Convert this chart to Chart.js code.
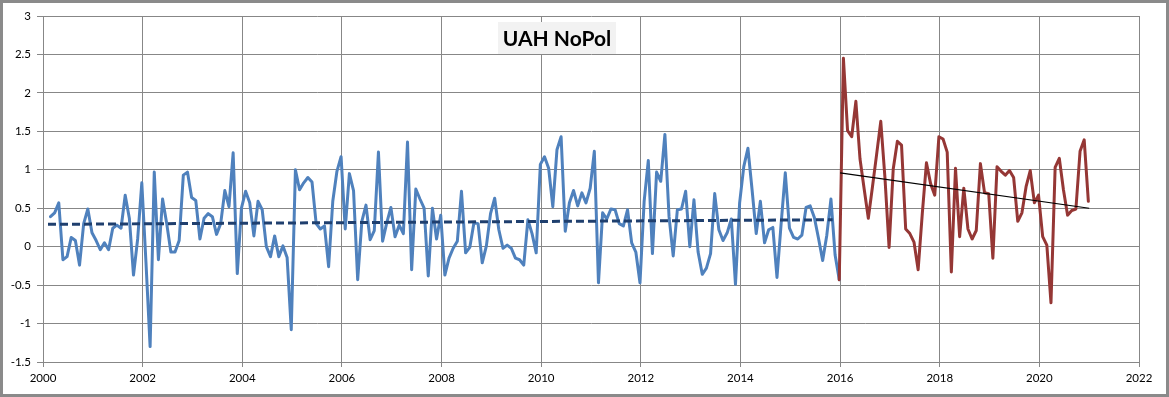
<!DOCTYPE html>
<html>
<head>
<meta charset="utf-8">
<script src="https://cdn.jsdelivr.net/npm/chart.js@4"></script>
<style>
  body { margin: 0; background: #fff; }
  #frame {
    width: 1169px; height: 397px; box-sizing: border-box;
    border: 3px solid #8a8a8a; background: #fff;
  }
  canvas { display: block; }
</style>
</head>
<body>
<div id="frame"><canvas id="chart" width="1163" height="391"></canvas></div>
<script>
// --- datos (mensuales) ---
const blueStart = 2000.15;
const monthStep = 1 / 12;
const blueValues = [
  0.39, 0.44, 0.57, -0.17, -0.13, 0.12, 0.08, -0.24, 0.30, 0.49, 0.18, 0.08,
  -0.04, 0.05, -0.04, 0.24, 0.28, 0.24, 0.67, 0.37, -0.37, 0.10, 0.83, -0.20,
  -1.30, 0.97, -0.17, 0.62, 0.30, -0.07, -0.07, 0.08, 0.93, 0.97, 0.64, 0.60,
  0.10, 0.37, 0.43, 0.39, 0.16, 0.30, 0.73, 0.52, 1.22, -0.35, 0.50, 0.72,
  0.57, 0.14, 0.59, 0.48, 0.00, -0.13, 0.14, -0.13, 0.01, -0.14, -1.08, 1.00,
  0.74, 0.83, 0.90, 0.84, 0.30, 0.23, 0.27, -0.26, 0.59, 0.98, 1.17, 0.23,
  0.95, 0.73, -0.43, 0.33, 0.54, 0.09, 0.21, 1.23, 0.07, 0.31, 0.51, 0.13,
  0.28, 0.17, 1.36, -0.30, 0.75, 0.62, 0.50, -0.38, 0.50, 0.10, 0.41, -0.37,
  -0.15, -0.02, 0.07, 0.72, -0.08, -0.01, 0.31, 0.30, -0.21, 0.01, 0.43, 0.63,
  0.22, -0.02, 0.02, -0.02, -0.15, -0.17, -0.24, 0.35, 0.17, -0.08, 1.07, 1.17,
  1.02, 0.52, 1.26, 1.43, 0.20, 0.57, 0.73, 0.53, 0.70, 0.57, 0.76, 1.24,
  -0.47, 0.44, 0.36, 0.49, 0.48, 0.30, 0.27, 0.48, 0.05, -0.07, -0.47, 0.59,
  1.12, -0.09, 0.97, 0.85, 1.46, 0.39, -0.12, 0.48, 0.49, 0.72, 0.00, 0.61,
  -0.07, -0.36, -0.28, -0.09, 0.69, 0.22, 0.08, 0.18, 0.36, -0.49, 0.57, 1.04,
  1.28, 0.74, 0.17, 0.59, 0.05, 0.22, 0.25, -0.40, 0.30, 0.96, 0.24, 0.12,
  0.10, 0.15, 0.51, 0.53, 0.38, 0.11, -0.18, 0.15, 0.62, -0.11, -0.43
];
const redValues = [
  -0.43, 2.45, 1.51, 1.43, 1.89, 1.14, 0.75, 0.37, 0.78, 1.20, 1.63, 0.90,
  -0.01, 1.01, 1.37, 1.32, 0.23, 0.17, 0.06, -0.30, 0.43, 1.09, 0.82, 0.67,
  1.43, 1.40, 1.23, -0.33, 1.02, 0.13, 0.76, 0.23, 0.10, 0.21, 1.08, 0.70,
  0.69, -0.15, 1.04, 0.98, 0.93, 0.99, 0.90, 0.33, 0.44, 0.78, 0.99, 0.57,
  0.67, 0.13, 0.02, -0.73, 1.03, 1.15, 0.74, 0.41, 0.47, 0.49, 1.24, 1.39,
  0.59
];
// tendencias (extremos)
const blueTrendX = [2000.1, 2015.85];
const blueTrendY = [0.29, 0.35];
const redTrendX = [2016.0, 2021.0];
const redTrendY = [0.96, 0.50];
const titleText = 'UAH NoPol';

const redStart = blueStart + (blueValues.length - 1) * monthStep;
const toPoints = (start, vals) => vals.map((v, i) => ({ x: start + i * monthStep, y: v }));
const pairPoints = (xs, ys) => xs.map((x, i) => ({ x: x, y: ys[i] }));

const gridColor = '#878787';
const fontFamily = 'Lato, "Open Sans", sans-serif';

// caja del título dentro del área del gráfico
const titleBox = {
  id: 'titleBox',
  afterDatasetsDraw(chart) {
    const ctx = chart.ctx;
    ctx.save();
    ctx.fillStyle = '#f2f2f2';
    ctx.fillRect(495, 19, 118, 32);
    ctx.fillStyle = '#000';
    ctx.font = 'bold 21px ' + fontFamily;
    ctx.textAlign = 'center';
    ctx.textBaseline = 'middle';
    ctx.fillText(titleText, 554, 36);
    ctx.restore();
  }
};

new Chart(document.getElementById('chart'), {
  type: 'scatter',
  data: {
    datasets: [
      {
        data: pairPoints(redTrendX, redTrendY),
        showLine: true, borderColor: '#000', borderWidth: 1.2, pointRadius: 0
      },
      {
        data: pairPoints(blueTrendX, blueTrendY),
        showLine: true, borderColor: '#1f3f6e', borderWidth: 3, borderDash: [8, 4], pointRadius: 0
      },
      {
        data: toPoints(redStart, redValues),
        showLine: true, borderColor: '#953735', borderWidth: 3, pointRadius: 0,
        borderJoinStyle: 'round', borderCapStyle: 'round'
      },
      {
        data: toPoints(blueStart, blueValues),
        showLine: true, borderColor: '#4f81bd', borderWidth: 3, pointRadius: 0,
        borderJoinStyle: 'round', borderCapStyle: 'round'
      }
    ]
  },
  options: {
    responsive: false,
    animation: false,
    layout: { padding: { left: 0, top: 13, right: 27, bottom: 0 } },
    plugins: { legend: { display: false }, tooltip: { enabled: false } },
    scales: {
      x: {
        type: 'linear', min: 2000, max: 2022,
        afterFit: (s) => { s.height = 32; },
        ticks: {
          stepSize: 2, color: '#000', padding: 4, maxRotation: 0,
          font: { family: fontFamily, size: 11.5 },
          callback: (v) => String(v)
        },
        grid: { color: gridColor, lineWidth: 1, tickLength: 5 },
        border: { color: gridColor }
      },
      y: {
        min: -1.5, max: 3,
        afterFit: (s) => { s.width = 40; },
        ticks: {
          stepSize: 0.5, color: '#000', padding: 6,
          font: { family: fontFamily, size: 11.5 },
          callback: (v) => String(Math.round(v * 10) / 10)
        },
        grid: { color: gridColor, lineWidth: 1, tickLength: 6 },
        border: { color: gridColor }
      }
    }
  },
  plugins: [titleBox]
});
</script>
</body>
</html>
